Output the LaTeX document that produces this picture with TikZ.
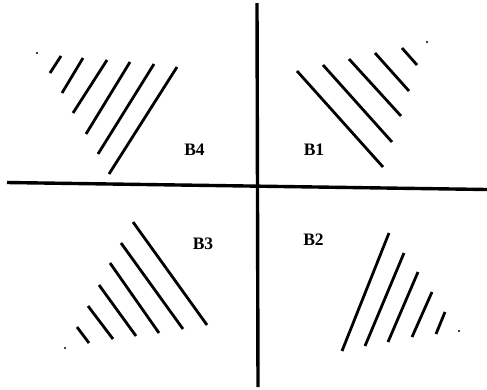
\documentclass[tikz,border=0pt]{standalone}
\usepackage{fontspec}
\setmainfont{Liberation Serif}
\usepackage{tikz}
\usetikzlibrary{positioning}
\tikzset{
  axis/.style={line width=3.4pt, black},
  hatch/.style={line width=2.8pt, black},
  tip/.style={circle, fill=black, inner sep=0pt, minimum size=2.4pt},
  quad/.style={font=\fontsize{17.5}{19}\selectfont\bfseries, inner sep=0pt},
}

\begin{document}
\begin{tikzpicture}[x=1pt, y=-1pt]
\useasboundingbox (0,0) rectangle (487,389);
\draw[axis] (7,182.5) -- (487,189.5);
\draw[axis] (257,3) -- (258,387);
\node[quad] (b4) at (194.5,150) {B4};
\node[quad] (b1) at (314,149.5) {B1};
\node[quad] (b3) at (203,244) {B3};
\node[quad] (b2) at (313.5,239.5) {B2};
\foreach \a/\b/\c/\d in {50/73/61/56, 62/93/83/58, 73/113/107/60, 86/134/130/62,
    98/154/154/64, 109/174/177/67}
  \draw[hatch] (\a,\b) -- (\c,\d);
\node[tip] (t4) at (37,53) {};
\foreach \a/\b/\c/\d in {297/71/383/167, 323/65/392/142, 349/59/401/116,
    375/53/409/91, 402/48/417/65}
  \draw[hatch] (\a,\b) -- (\c,\d);
\node[tip] (t1) at (427,42) {};
\foreach \a/\b/\c/\d in {133/222/207/325, 121/243/183/329, 110/263/159/333,
    99/285/136/336, 88/306/113/339, 77/327/89/343}
  \draw[hatch] (\a,\b) -- (\c,\d);
\node[tip] (t3) at (65,348) {};
\foreach \a/\b/\c/\d in {389/233/342/351, 404/253/365/346, 418/272/388/342,
    432/292/412/337, 445/312/436/334}
  \draw[hatch] (\a,\b) -- (\c,\d);
\node[tip] (t2) at (459,331) {};
\end{tikzpicture}
\end{document}
